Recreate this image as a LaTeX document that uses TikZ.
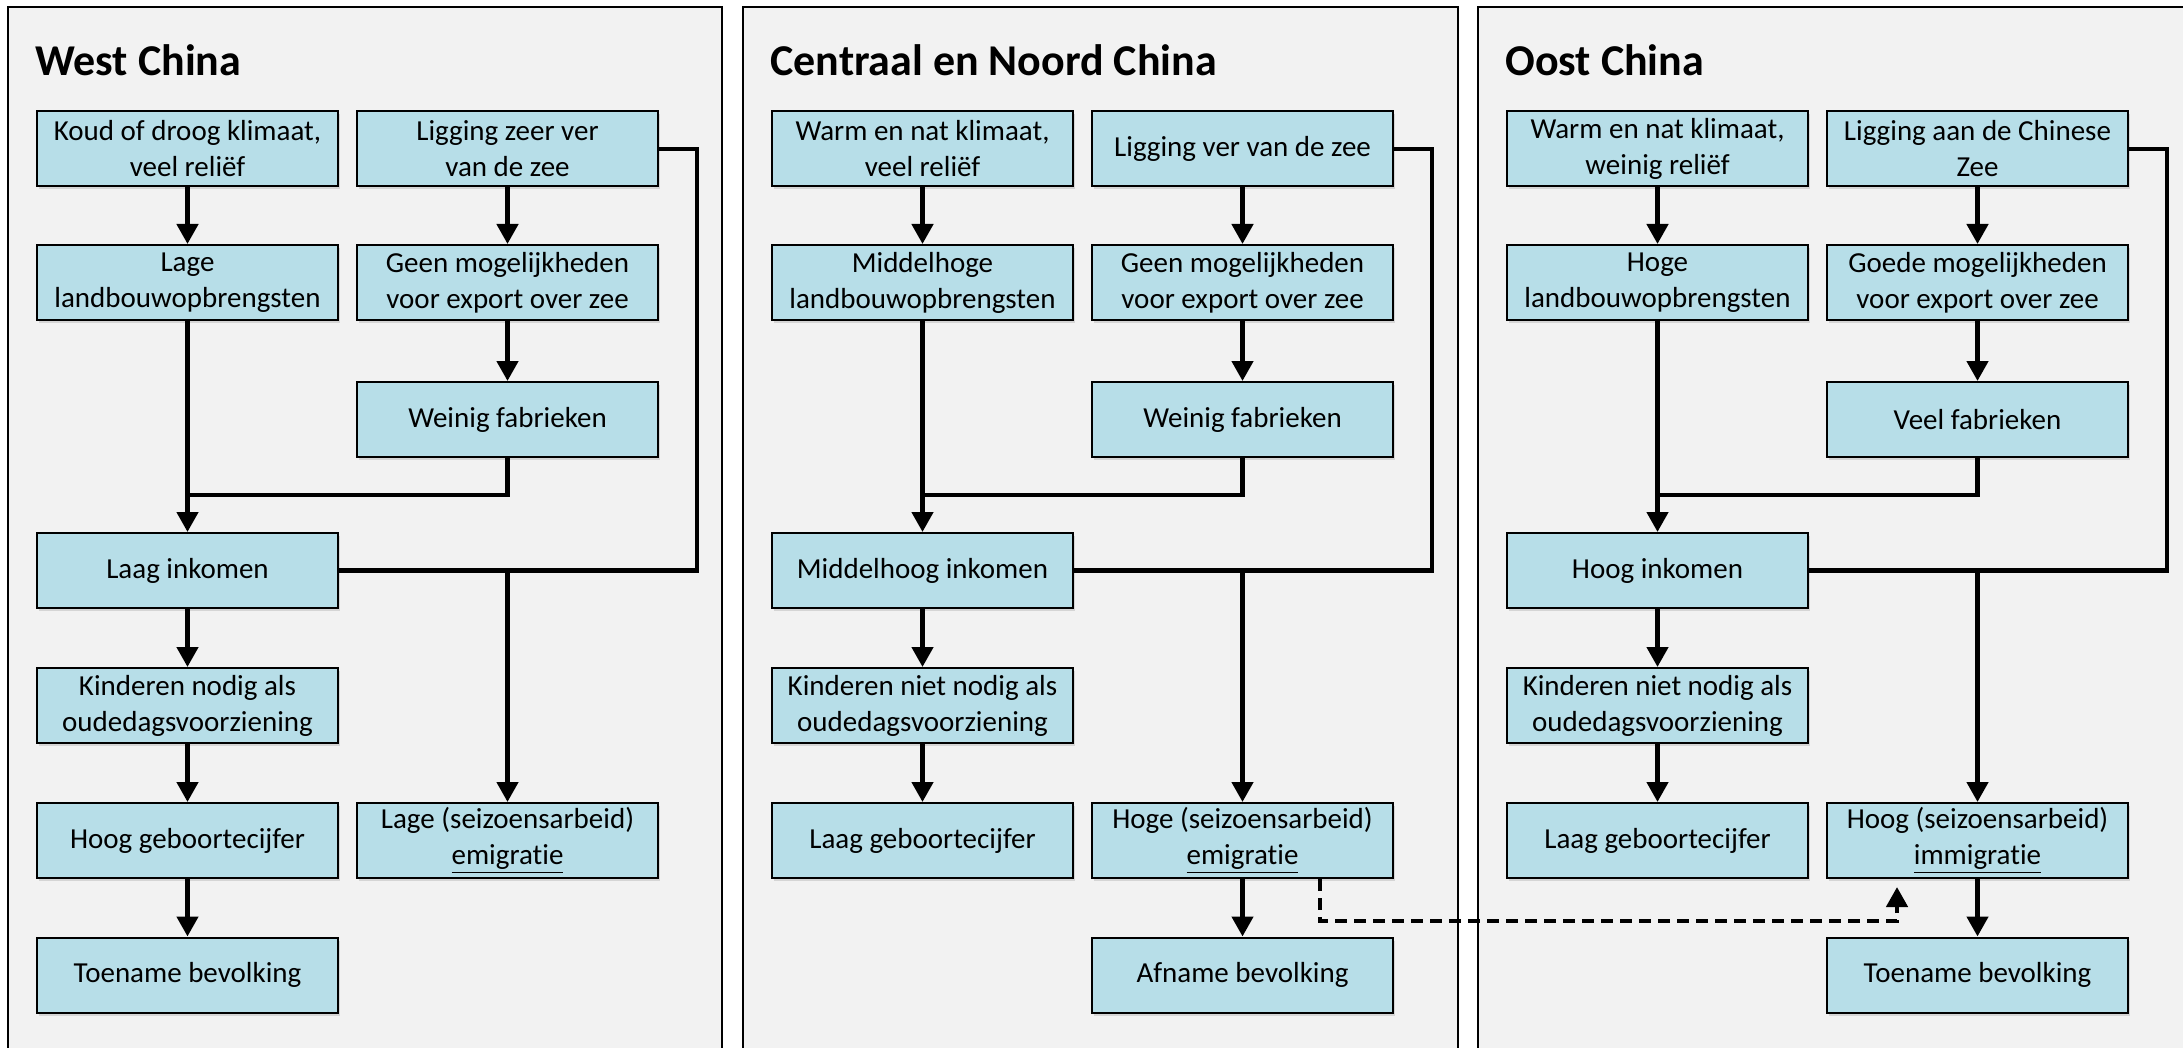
\documentclass[tikz,border=0pt]{standalone}
\usepackage{fontspec}
\setmainfont{Carlito}[Ligatures=NoCommon]
\usetikzlibrary{arrows.meta,shadows,calc}
\definecolor{panelgray}{HTML}{F2F2F2}
\definecolor{boxblue}{HTML}{B7DEE8}

\begin{document}
\begin{tikzpicture}[x=0.5pt,y=-0.5pt,
  panel/.style={draw=black,line width=1pt,fill=panelgray},
  title/.style={anchor=base west,inner sep=0pt,font=\fontsize{22pt}{26pt}\selectfont\bfseries},
  box/.style={draw=black,line width=1pt,fill=boxblue,minimum width=150.5pt,minimum height=37.5pt,
    inner sep=0pt,align=center,font=\fontsize{14.5pt}{18pt}\selectfont,
    drop shadow={shadow xshift=1pt,shadow yshift=-1.5pt,opacity=0.25}},
  link/.style={line width=2.25pt},
  flow/.style={link,-{Triangle[width=10.5pt,length=10pt]}},
  migration/.style={flow,dash pattern=on 6pt off 3.5pt}
]
\clip (0,0) rectangle (2183,1048);
\fill[white] (0,0) rectangle (2183,1048);

% three regional panels, cut off at the bottom and right edge
\draw[panel] (8,7) rectangle (722,1070);
\draw[panel] (743,7) rectangle (1458,1070);
\draw[panel] (1478,7) rectangle (2220,1070);

% ---------------- West China ----------------
\begin{scope}
\node[title] (w-title) at (35,76) {West China};
\node[box] (w-klimaat) at (187.5,149) {Koud of droog klimaat,\\veel reliëf};
\node[box] (w-ligging) at (507.5,149) {Ligging zeer ver\\van de zee};
\node[box] (w-landbouw) at (187.5,282.5) {Lage\\landbouwopbrengsten};
\node[box] (w-export) at (507.5,282.5) {Geen mogelijkheden\\voor export over zee};
\node[box] (w-fabriek) at (507.5,419.5) {Weinig fabrieken};
\node[box] (w-inkomen) at (187.5,570.5) {Laag inkomen};
\node[box] (w-kinderen) at (187.5,705.5) {Kinderen nodig als\\oudedagsvoorziening};
\node[box] (w-geboorte) at (187.5,840.5) {Hoog geboortecijfer};
\node[box] (w-migratie) at (507.5,840.5) {Lage (seizoensarbeid)\\\underline{emigratie}};
\node[box] (w-bevolking) at (187.5,975) {Toename bevolking};
\coordinate (w-join) at (187.5,495);
\coordinate (w-bend) at (697,149);
\coordinate (w-split) at (507.5,570.5);
\draw[flow] (w-klimaat) -- (w-landbouw);
\draw[flow] (w-ligging) -- (w-export);
\draw[flow] (w-export) -- (w-fabriek);
\draw[flow] (w-landbouw) -- (w-inkomen);
\draw[link] (w-fabriek.south) |- (w-join);
\draw[link] (w-ligging.east) -- (w-bend) |- (w-inkomen.east);
\draw[flow] (w-split) -- (w-migratie);
\draw[flow] (w-inkomen) -- (w-kinderen);
\draw[flow] (w-kinderen) -- (w-geboorte);
\draw[flow] (w-geboorte) -- (w-bevolking);
\end{scope}

% ---------------- Centraal en Noord China ----------------
\begin{scope}[shift={(735,0)}]
\node[title] (c-title) at (35,76) {Centraal en Noord China};
\node[box] (c-klimaat) at (187.5,149) {Warm en nat klimaat,\\veel reliëf};
\node[box] (c-ligging) at (507.5,149) {Ligging ver van de zee};
\node[box] (c-landbouw) at (187.5,282.5) {Middelhoge\\landbouwopbrengsten};
\node[box] (c-export) at (507.5,282.5) {Geen mogelijkheden\\voor export over zee};
\node[box] (c-fabriek) at (507.5,419.5) {Weinig fabrieken};
\node[box] (c-inkomen) at (187.5,570.5) {Middelhoog inkomen};
\node[box] (c-kinderen) at (187.5,705.5) {Kinderen niet nodig als\\oudedagsvoorziening};
\node[box] (c-geboorte) at (187.5,840.5) {Laag geboortecijfer};
\node[box] (c-migratie) at (507.5,840.5) {Hoge (seizoensarbeid)\\\underline{emigratie}};
\node[box] (c-bevolking) at (507.5,975) {Afname bevolking};
\coordinate (c-join) at (187.5,495);
\coordinate (c-bend) at (697,149);
\coordinate (c-split) at (507.5,570.5);
\draw[flow] (c-klimaat) -- (c-landbouw);
\draw[flow] (c-ligging) -- (c-export);
\draw[flow] (c-export) -- (c-fabriek);
\draw[flow] (c-landbouw) -- (c-inkomen);
\draw[link] (c-fabriek.south) |- (c-join);
\draw[link] (c-ligging.east) -- (c-bend) |- (c-inkomen.east);
\draw[flow] (c-split) -- (c-migratie);
\draw[flow] (c-inkomen) -- (c-kinderen);
\draw[flow] (c-kinderen) -- (c-geboorte);
\draw[flow] (c-migratie) -- (c-bevolking);
\end{scope}

% ---------------- Oost China ----------------
\begin{scope}[shift={(1470,0)}]
\node[title] (e-title) at (35,76) {Oost China};
\node[box] (e-klimaat) at (187.5,149) {Warm en nat klimaat,\\weinig reliëf};
\node[box] (e-ligging) at (507.5,149) {Ligging aan de Chinese\\Zee};
\node[box] (e-landbouw) at (187.5,282.5) {Hoge\\landbouwopbrengsten};
\node[box] (e-export) at (507.5,282.5) {Goede mogelijkheden\\voor export over zee};
\node[box] (e-fabriek) at (507.5,419.5) {Veel fabrieken};
\node[box] (e-inkomen) at (187.5,570.5) {Hoog inkomen};
\node[box] (e-kinderen) at (187.5,705.5) {Kinderen niet nodig als\\oudedagsvoorziening};
\node[box] (e-geboorte) at (187.5,840.5) {Laag geboortecijfer};
\node[box] (e-migratie) at (507.5,840.5) {Hoog (seizoensarbeid)\\\underline{immigratie}};
\node[box] (e-bevolking) at (507.5,975) {Toename bevolking};
\coordinate (e-join) at (187.5,495);
\coordinate (e-bend) at (697,149);
\coordinate (e-split) at (507.5,570.5);
\coordinate (e-tip) at (427,887);
\draw[flow] (e-klimaat) -- (e-landbouw);
\draw[flow] (e-ligging) -- (e-export);
\draw[flow] (e-export) -- (e-fabriek);
\draw[flow] (e-landbouw) -- (e-inkomen);
\draw[link] (e-fabriek.south) |- (e-join);
\draw[link] (e-ligging.east) -- (e-bend) |- (e-inkomen.east);
\draw[flow] (e-split) -- (e-migratie);
\draw[flow] (e-inkomen) -- (e-kinderen);
\draw[flow] (e-kinderen) -- (e-geboorte);
\draw[flow] (e-migratie) -- (e-bevolking);
\end{scope}

% migration from the centre to the east
\draw[migration] ([xshift=38.75pt]c-migratie.south) -- ++(0,42) -| (e-tip);
\end{tikzpicture}
\end{document}
